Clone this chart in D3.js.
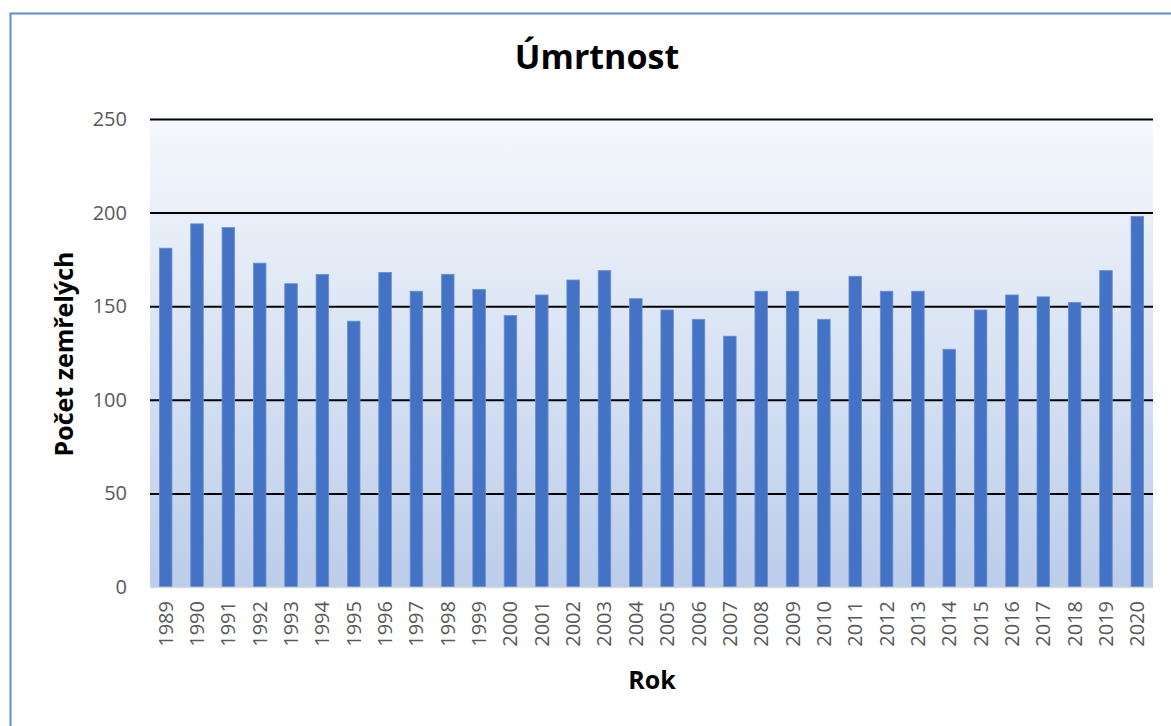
<!DOCTYPE html>
<html>
<head>
<meta charset="utf-8">
<script src="https://cdn.jsdelivr.net/npm/d3@7"></script>
<style>
  body { margin: 0; background: #fff; }
  text { font-family: "Open Sans", sans-serif; }
</style>
</head>
<body>
<svg width="1171" height="726"></svg>
<script>
  const titleText = 'Úmrtnost';
  const xAxisLabelText = 'Rok';
  const yAxisLabelText = 'Počet zemřelých';

  const years = ['1989','1990','1991','1992','1993','1994','1995','1996','1997','1998',
    '1999','2000','2001','2002','2003','2004','2005','2006','2007','2008',
    '2009','2010','2011','2012','2013','2014','2015','2016','2017','2018',
    '2019','2020'];
  const deaths = [181,194,192,173,162,167,142,168,158,167,
    159,145,156,164,169,154,148,143,134,158,
    158,143,166,158,158,127,148,156,155,152,
    169,198];
  const yTicks = [0, 50, 100, 150, 200, 250];

  const svg = d3.select('svg');
  const width = +svg.attr('width');
  const height = +svg.attr('height');

  // outer chart frame (only left and top edges are visible)
  svg.append('path')
    .attr('d', `M10.5,${height} L10.5,13.5 L${width},13.5`)
    .attr('fill', 'none')
    .attr('stroke', '#5b8bd8')
    .attr('stroke-width', 2);

  const margin = { top: 119, right: 18, bottom: 139, left: 150 };
  const innerWidth = width - margin.left - margin.right;
  const innerHeight = height - margin.top - margin.bottom;

  const defs = svg.append('defs');
  const grad = defs.append('linearGradient')
    .attr('id', 'bg').attr('x1', 0).attr('y1', 0).attr('x2', 0).attr('y2', 1);
  grad.append('stop').attr('offset', '0%').attr('stop-color', '#f5f8fc');
  grad.append('stop').attr('offset', '100%').attr('stop-color', '#bccdea');

  const g = svg.append('g')
    .attr('transform', `translate(${margin.left},${margin.top})`);

  const xScale = d3.scaleBand()
    .domain(years)
    .range([0, innerWidth])
    .paddingInner(0.6)
    .paddingOuter(0.3);
  const yScale = d3.scaleLinear()
    .domain([0, 250])
    .range([innerHeight, 0]);

  g.append('rect')
    .attr('width', innerWidth)
    .attr('height', innerHeight)
    .attr('fill', 'url(#bg)');

  // gridlines + y labels
  const yAxisG = g.append('g')
    .call(d3.axisLeft(yScale).tickValues(yTicks).tickSize(-innerWidth).tickPadding(23));
  yAxisG.select('.domain').remove();
  yAxisG.selectAll('.tick line')
    .attr('stroke', d => d === 0 ? 'none' : '#000')
    .attr('stroke-width', 2);
  yAxisG.selectAll('.tick text')
    .attr('fill', '#595959')
    .style('font-size', '20px');

  g.selectAll('rect.bar').data(deaths)
    .enter().append('rect')
      .attr('class', 'bar')
      .attr('x', (d, i) => xScale(years[i]))
      .attr('y', d => yScale(d))
      .attr('width', xScale.bandwidth())
      .attr('height', d => innerHeight - yScale(d))
      .attr('fill', '#4472c4')
      .attr('stroke', '#6b8fd2')
      .attr('stroke-width', 0.8);

  const xAxisG = g.append('g')
    .attr('transform', `translate(0,${innerHeight})`)
    .call(d3.axisBottom(xScale).tickSize(0));
  xAxisG.select('.domain')
    .attr('stroke', '#d9d9d9')
    .attr('stroke-width', 1.5);
  xAxisG.selectAll('text')
    .attr('fill', '#595959')
    .style('font-size', '20px')
    .style('text-anchor', 'end')
    .attr('transform', 'rotate(-90)')
    .attr('x', -14)
    .attr('y', 0)
    .attr('dy', '0.35em');

  svg.append('text')
    .attr('x', 597).attr('y', 69)
    .attr('text-anchor', 'middle')
    .style('font-size', '34px').style('font-weight', 'bold')
    .text(titleText);

  svg.append('text')
    .attr('transform', 'translate(73,354) rotate(-90)')
    .attr('text-anchor', 'middle')
    .style('font-size', '25px').style('font-weight', 'bold')
    .text(yAxisLabelText);

  svg.append('text')
    .attr('x', 652).attr('y', 689)
    .attr('text-anchor', 'middle')
    .style('font-size', '25px').style('font-weight', 'bold')
    .text(xAxisLabelText);
</script>
</body>
</html>
